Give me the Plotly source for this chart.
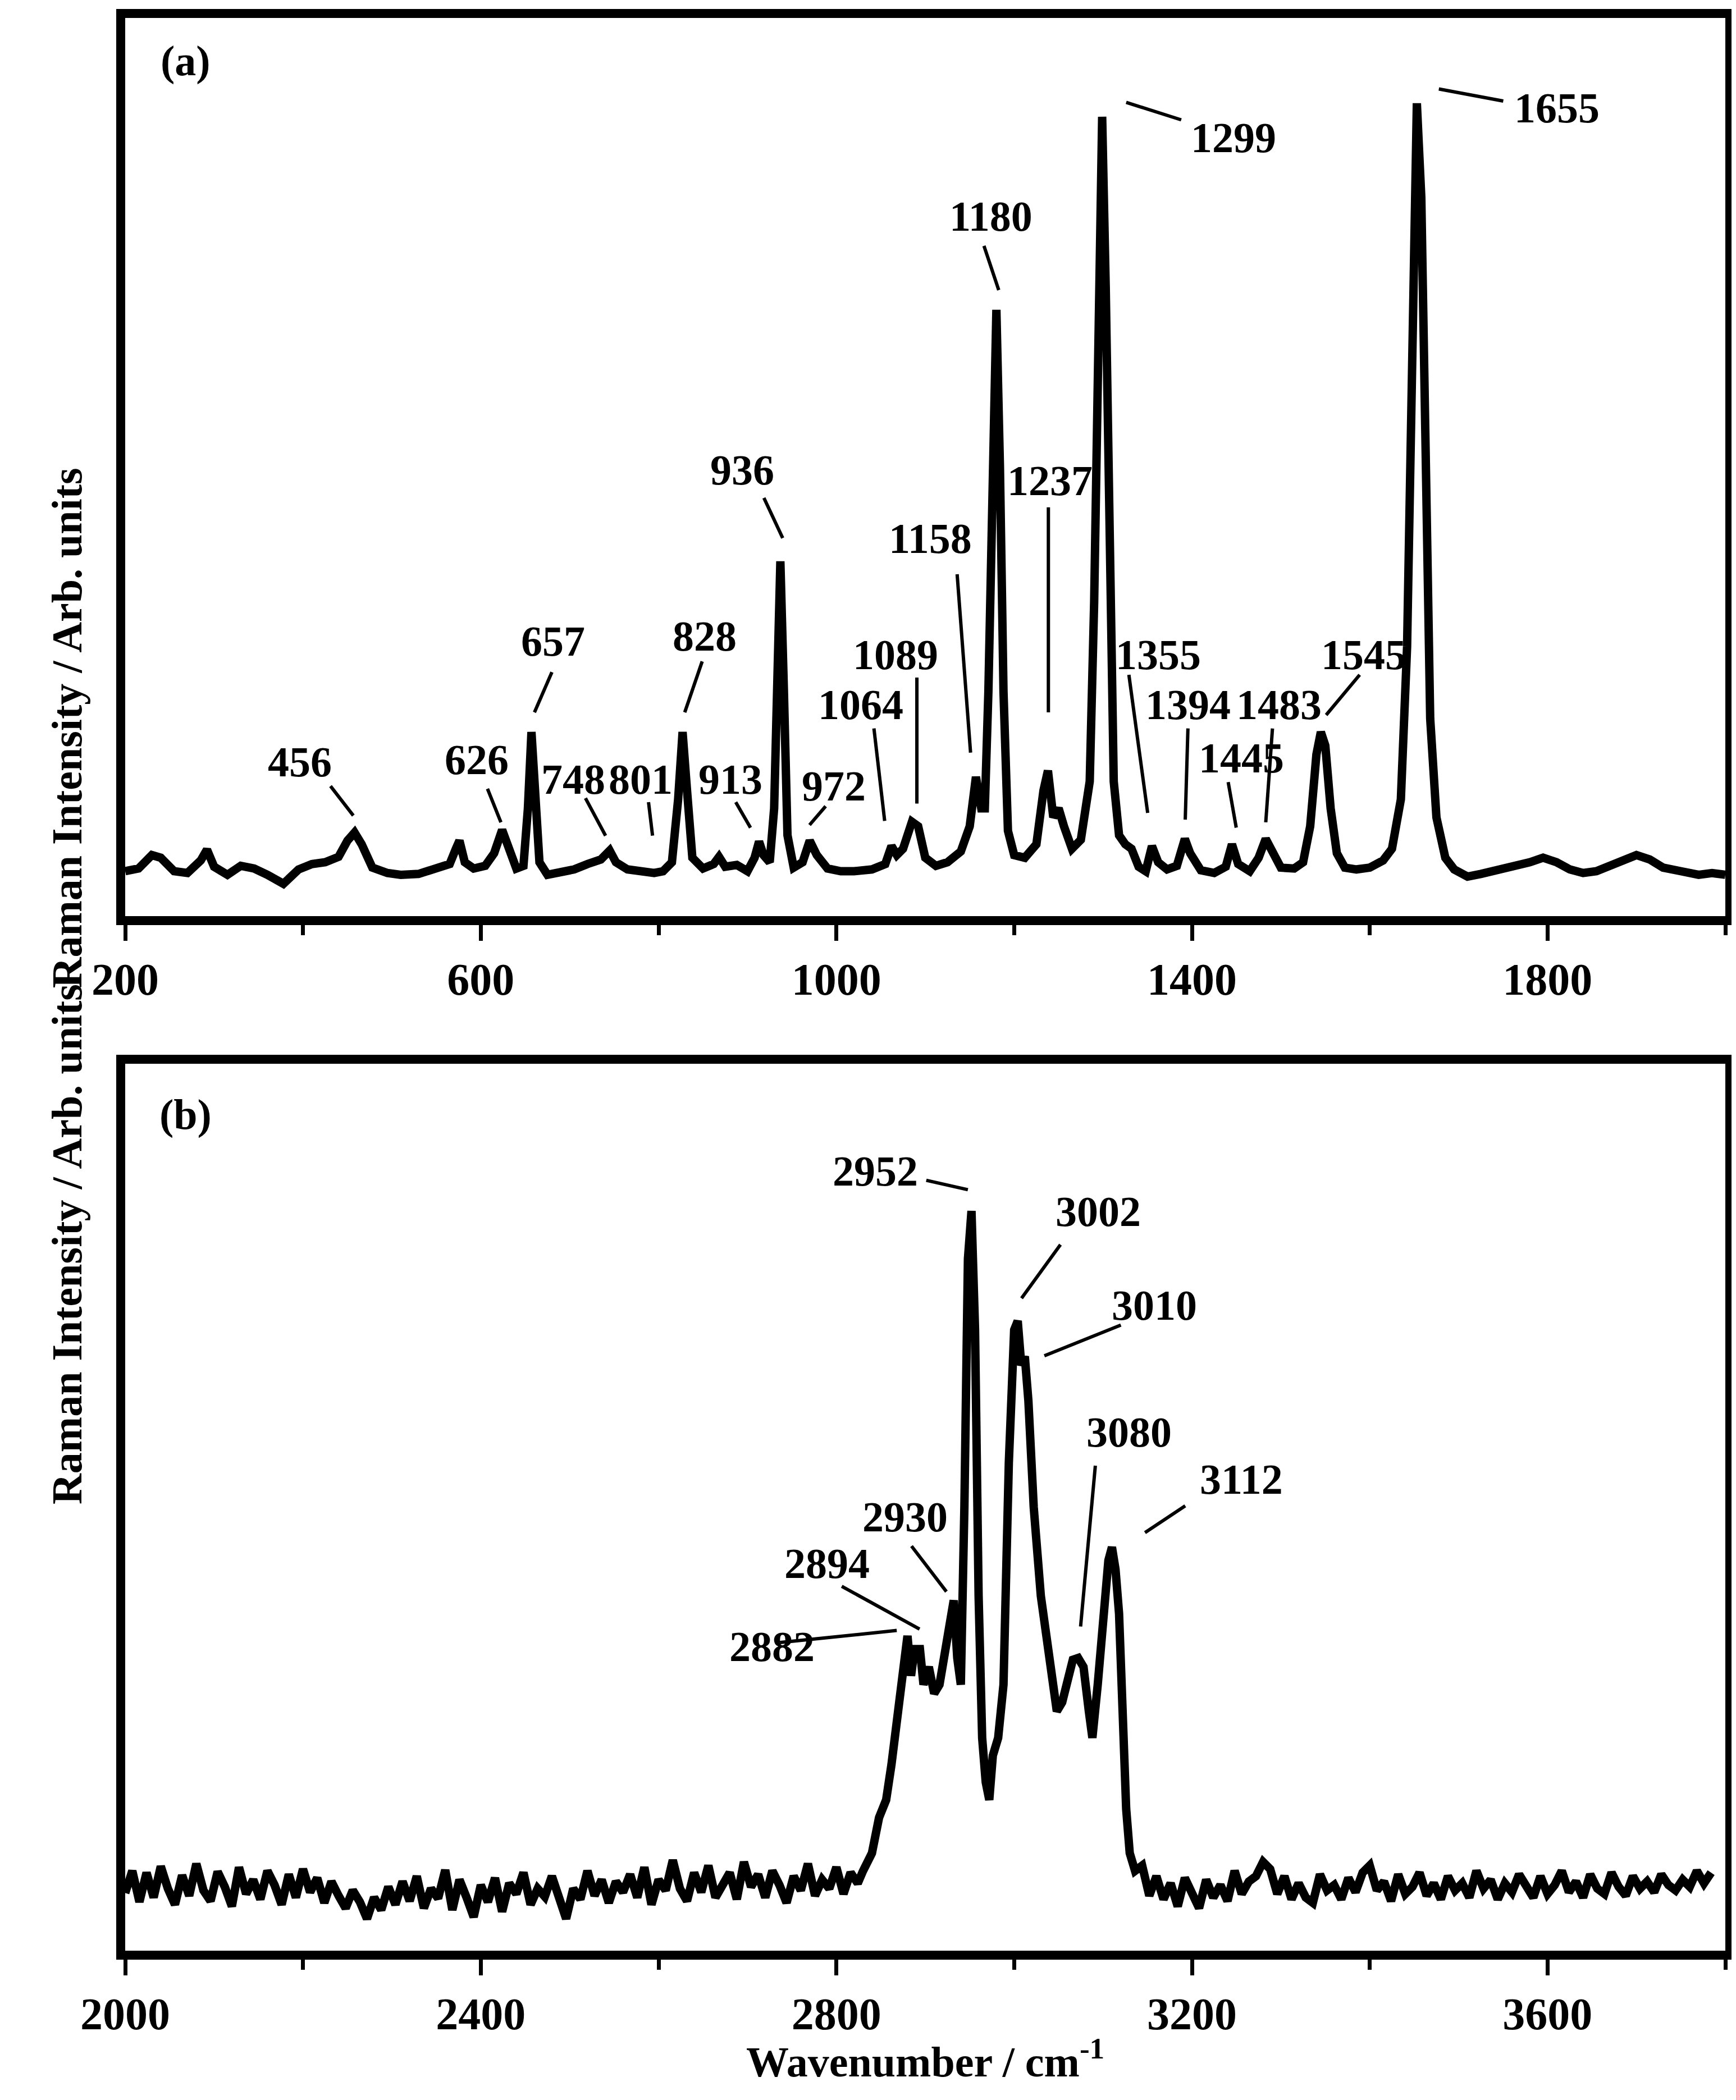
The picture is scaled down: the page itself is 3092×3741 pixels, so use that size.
import plotly.graph_objects as go

# ---------------- data ----------------
wn_a = [200,215,230,240,255,270,285,292,300,315,330,345,360,378,395,410,425,440,450,458,466,478,495,510,530,550,565,572,576,582,592,605,615,624,632,640,648,653,657,661,666,675,690,705,720,735,745,752,765,780,795,805,815,822,827,832,838,850,862,868,875,888,900,908,913,918,925,930,933,937,941,945,952,962,970,978,990,1005,1020,1040,1055,1062,1068,1075,1085,1092,1100,1112,1125,1140,1150,1157,1163,1167,1171,1175,1180,1184,1188,1193,1200,1212,1225,1233,1238,1244,1250,1256,1265,1275,1285,1290,1294,1299,1303,1307,1312,1318,1325,1332,1340,1348,1355,1362,1372,1383,1392,1398,1410,1425,1438,1445,1452,1465,1475,1483,1490,1500,1515,1525,1533,1540,1545,1550,1556,1563,1572,1585,1600,1615,1625,1635,1642,1648,1653,1658,1663,1668,1675,1685,1695,1710,1725,1740,1760,1780,1795,1810,1825,1840,1855,1870,1885,1900,1915,1930,1950,1970,1985,2000]
int_a = [5.0,5.3,6.8,6.5,5.0,4.8,6.2,7.4,5.5,4.6,5.6,5.3,4.6,3.6,5.2,5.8,6.0,6.6,8.4,9.3,8.0,5.4,4.8,4.6,4.7,5.2,5.8,7.5,8.4,6.0,5.3,5.6,7.0,9.6,7.5,5.3,5.6,12,20.5,13,6.0,4.6,4.8,5.2,5.8,6.3,7.3,6.0,5.2,5.0,4.8,5.0,6.0,13,20.5,14,6.5,5.3,5.8,6.6,5.5,5.7,5.0,6.5,8.3,6.8,6.0,12,25,39.5,25,9,5.4,6.0,8.4,6.8,5.3,5.0,5.0,5.2,5.8,7.8,6.8,7.5,10.5,10.0,6.5,5.6,6.0,7.2,10,15.5,12,12,25,50,67.5,50,25,9.5,6.8,6.5,8,14,16.2,11,12,10,7.5,8.5,15,35,65,89,70,40,15,9,8.0,7.5,5.5,5.0,7.8,6.0,5.2,5.6,8.6,7.0,5.1,4.8,5.5,8.0,5.8,5.0,6.5,8.6,7.2,5.4,5.3,6.0,10,18,20.5,19,12,7,5.4,5.2,5.4,6.2,7.5,13,30,68,90.5,80,45,22,11,6.5,5.2,4.4,4.7,5.0,5.6,6.0,6.5,6.0,5.2,4.8,5.0,5.6,6.0,6.8,6.3,5.4,5.0,4.6,4.8,4.6]

wn_b = [2000,2008,2016,2024,2032,2040,2048,2056,2064,2072,2080,2088,2096,2104,2112,2120,2128,2136,2144,2152,2160,2168,2176,2184,2192,2200,2208,2216,2224,2232,2240,2248,2256,2264,2272,2280,2288,2296,2304,2312,2320,2328,2336,2344,2352,2360,2368,2376,2384,2392,2400,2408,2416,2424,2432,2440,2448,2456,2464,2472,2480,2488,2496,2504,2512,2520,2528,2536,2544,2552,2560,2568,2576,2584,2592,2600,2608,2616,2624,2632,2640,2648,2656,2664,2672,2680,2688,2696,2704,2712,2720,2728,2736,2744,2752,2760,2768,2776,2784,2792,2800,2808,2816,2824,
        2830,2840,2848,2856,2862,2868,2874,2880,2884,2888,2894,2898,2904,2910,2916,2922,2928,2932,2936,2940,2944,2948,2952,2956,2960,2964,2968,2972,2976,2982,2988,2994,3000,3004,3008,3012,3016,3022,3030,3040,3048,3054,3060,3066,3072,3078,3084,3088,3094,3100,3106,3110,3114,3118,3122,3126,3130,3136,
        3144,3152,3160,3168,3176,3184,3192,3200,3208,3216,3224,3232,3240,3248,3256,3264,3272,3280,3288,3296,3304,3312,3320,3328,3336,3344,3352,3360,3368,3376,3384,3392,3400,3408,3416,3424,3432,3440,3448,3456,3464,3472,3480,3488,3496,3504,3512,3520,3528,3536,3544,3552,3560,3568,3576,3584,3592,3600,3608,3616,3624,3632,3640,3648,3656,3664,3672,3680,3688,3696,3704,3712,3720,3728,3736,3744,3752,3760,3768,3776,3784,3792,3800]
int_b = [6.5,9.0,5.5,8.8,6.0,9.5,7.0,5.2,8.5,6.2,9.8,6.8,5.6,8.9,7.2,5.0,9.4,6.4,8.0,5.8,9.0,7.4,5.2,8.6,6.0,9.2,6.6,8.2,5.4,7.8,6.2,4.8,6.8,5.5,3.6,6.0,4.6,7.2,5.2,7.8,5.6,8.4,4.8,7.0,5.9,9.1,4.6,8.0,6.0,3.8,7.4,5.5,8.2,4.4,7.6,6.4,8.8,5.2,7.0,6.1,8.4,5.6,3.6,7.0,5.8,9.0,6.2,8.0,5.4,7.8,6.6,8.6,6.0,9.4,5.2,8.0,6.8,10.2,7.0,5.6,8.8,6.6,9.6,6.0,7.4,8.8,5.8,10.0,7.2,8.6,6.0,9.0,7.4,5.4,8.4,6.8,9.8,6.2,8.0,7.0,9.4,6.4,8.8,7.6,
         9,11,15,17,21,26,30,35.5,31,34,34,30,32,29,30,34,38,39.5,33,30,50,78,83.4,70,40,24,19,17,22,24,30,55,70,71,66,67,62,50,40,33,27,28,31,32.8,33,32,27,24,30,38,44,45.5,43,38,25,16,11,9,
         9.6,6.2,8.4,5.8,7.6,5.0,8.2,6.4,4.8,8.0,6.0,7.4,5.6,9.0,6.4,7.8,8.4,10.0,9.2,6.4,8.4,5.8,7.6,6.0,5.4,8.6,6.8,7.4,5.8,8.2,6.6,8.8,9.6,6.8,7.8,5.6,8.6,6.4,7.2,8.8,6.2,7.6,5.8,8.4,6.8,7.6,6.0,9.0,7.0,8.0,5.8,7.6,6.6,8.6,7.2,6.0,8.4,6.4,7.4,9.0,6.6,7.8,6.0,8.6,7.0,6.4,8.8,7.2,6.2,8.4,7.0,7.8,6.6,8.6,7.4,6.8,8.0,7.2,9.0,7.6,8.8]

peak_labels_a = ["456","626","657","748","801","828","913","936","972","1064","1089","1158","1180","1237","1299","1355","1394","1445","1483","1545","1655"]
peak_labels_b = ["2952","3002","3010","2930","2894","2882","3080","3112"]

# ---------------- layout positions (reference display px) ----------------
pos_a = [((220,565),(243,583,260,605)),((352,563),(360,585,370,610)),((409,475),(408,498,395,528)),
         ((424,578),(433,592,448,620)),((474,578),(480,595,483,620)),((522,471),(520,490,507,528)),
         ((541,578),(545,595,556,614)),((550,347),(566,368,580,398)),((618,583),(612,598,600,612)),
         ((638,522),(648,540,656,609)),((664,485),(680,502,680,596)),((690,398),(710,425,720,558)),
         ((735,158),(730,180,741,213)),((779,355),(778,375,778,528)),((916,99),(836,73,877,86)),
         ((860,485),(838,500,852,603)),((882,522),(882,540,880,608)),((922,562),(912,580,918,614)),
         ((950,522),(945,540,940,610)),((1013,485),(1010,500,985,530)),((1157,77),(1069,63,1117,72))]
pos_b = [((649,870),(687,877,718,884)),((815,900),(787,925,758,965)),((857,970),(832,985,775,1008)),
         ((671,1128),(676,1150,702,1184)),((613,1163),(624,1180,682,1212)),((572,1225),(578,1222,665,1213)),
         ((838,1065),(813,1090,802,1210)),((922,1100),(880,1120,850,1140))]

def pa(px, py):
    return 200 + (px - 90) * 1600 / 1060, (680 - py) / 670 * 100

def pb(px, py):
    return 2000 + (px - 90) * 1600 / 1060, (1452 - py) / 662 * 100

W, H = 3092, 3741
FONT = "Liberation Serif"
FS = 76
fig = go.Figure()
fig.add_trace(go.Scatter(x=wn_a, y=int_a, mode="lines", line=dict(color="black", width=15), xaxis="x", yaxis="y", showlegend=False))
fig.add_trace(go.Scatter(x=wn_b, y=int_b, mode="lines", line=dict(color="black", width=15), xaxis="x2", yaxis="y2", showlegend=False))

ann = []
shapes = []
for labels, positions, conv, xr, yr in [(peak_labels_a, pos_a, pa, "x", "y"), (peak_labels_b, pos_b, pb, "x2", "y2")]:
    for lab, ((tx, ty), (x0, y0, x1, y1)) in zip(labels, positions):
        X, Y = conv(tx, ty)
        ann.append(dict(x=X, y=Y, xref=xr, yref=yr, text="<b>%s</b>" % lab, showarrow=False,
                        font=dict(family=FONT, size=FS, color="black")))
        a0 = conv(x0, y0); a1 = conv(x1, y1)
        shapes.append(dict(type="line", xref=xr, yref=yr, x0=a0[0], y0=a0[1], x1=a1[0], y1=a1[1],
                           line=dict(color="black", width=6)))

X, Y = pa(135, 42)
ann.append(dict(x=X, y=Y, xref="x", yref="y", text="<b>(a)</b>", showarrow=False, font=dict(family=FONT, size=FS, color="black")))
X, Y = pb(135, 828)
ann.append(dict(x=X, y=Y, xref="x2", yref="y2", text="<b>(b)</b>", showarrow=False, font=dict(family=FONT, size=FS, color="black")))

for yc in [(3741 - 345 * 2.388) / 3741, (3741 - 1120 * 2.388) / 3741]:
    ann.append(dict(x=(67 - 215) / 2850, y=yc, xref="paper", yref="paper", text="<b>Raman Intensity / Arb. units</b>",
                    textangle=-90, showarrow=False, font=dict(family=FONT, size=FS, color="black")))
ann.append(dict(x=0.5, y=(3741 - 1553 * 2.388) / 3741, xref="paper", yref="paper", text="<b>Wavenumber / cm<sup>-1</sup></b>",
                showarrow=False, font=dict(family=FONT, size=FS, color="black")))

def xax(lo, hi, dom_anchor):
    return dict(range=[lo, hi], tick0=lo, dtick=400, ticks="outside", ticklen=28, tickwidth=7, tickcolor="black",
                minor=dict(dtick=200, tick0=lo, ticks="outside", ticklen=18, tickwidth=7, tickcolor="black"),
                showline=True, linewidth=16, linecolor="black", mirror=True, showgrid=False, zeroline=False,
                tickfont=dict(family=FONT, size=80, color="black"), anchor=dom_anchor)

def yax(dom, anchor):
    return dict(range=[0, 100], domain=dom, showticklabels=False, ticks="", showline=True, linewidth=16,
                linecolor="black", mirror=True, showgrid=False, zeroline=False, anchor=anchor)

fig.update_layout(
    width=W, height=H, paper_bgcolor="white", plot_bgcolor="white",
    margin=dict(l=215, r=27, t=0, b=0),
    xaxis=xax(200, 2000, "y"), yaxis=yax([1 - 1624 / 3741, 1 - 24 / 3741], "x"),
    xaxis2=xax(2000, 3800, "y2"), yaxis2=yax([1 - 3467 / 3741, 1 - 1887 / 3741], "x2"),
    annotations=ann, shapes=shapes, font=dict(family=FONT, color="black"),
)
fig.update_xaxes(tickprefix="<b>", ticksuffix="</b>")
fig.write_html("out.html")
